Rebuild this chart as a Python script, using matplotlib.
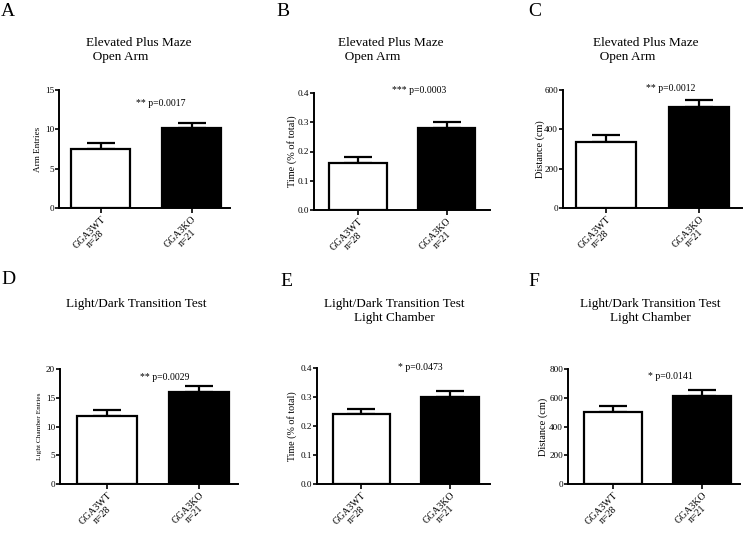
import matplotlib
matplotlib.use("Agg")
import matplotlib.pyplot as plt

plt.rcParams['font.family'] = ['Liberation Serif', 'DejaVu Serif']

# data
groups = ["GGA3WT\nn=28", "GGA3KO\nn=21"]
letters = ["A", "B", "C", "D", "E", "F"]
titles = ["Elevated Plus Maze\n  Open Arm",
          "Elevated Plus Maze\n  Open Arm",
          "Elevated Plus Maze\n  Open Arm",
          "Light/Dark Transition Test",
          "Light/Dark Transition Test\nLight Chamber",
          "Light/Dark Transition Test\nLight Chamber"]
ylabels = ["Arm Entries", "Time (% of total)", "Distance (cm)",
           "Light Chamber Entries", "Time (% of total)", "Distance (cm)"]
means = [[7.5, 10.2], [0.16, 0.28], [335, 515],
         [11.8, 16.0], [0.24, 0.30], [500, 610]]
sems = [[0.7, 0.6], [0.02, 0.02], [37, 35],
        [1.0, 1.0], [0.02, 0.02], [40, 42]]
pvals = ["** p=0.0017", "*** p=0.0003", "** p=0.0012",
         "** p=0.0029", "* p=0.0473", "* p=0.0141"]
yticks = [[0, 5, 10, 15], [0.0, 0.1, 0.2, 0.3, 0.4], [0, 200, 400, 600],
          [0, 5, 10, 15, 20], [0.0, 0.1, 0.2, 0.3, 0.4],
          [0, 200, 400, 600, 800]]
ytick_fmt = ["{:.0f}", "{:.1f}", "{:.0f}", "{:.0f}", "{:.1f}", "{:.0f}"]

# layout in pixels of the 748x533 figure
W, H = 748, 533
ax_px = [(59, 230, 90, 208), (314, 490, 93, 210), (563, 742, 90, 208),
         (60, 238, 369, 484), (317, 490, 368, 484), (568, 740, 369, 484)]
xlims = [(-0.46, 1.42), (-0.5, 1.49), (-0.46, 1.46),
         (-0.51, 1.42), (-0.5, 1.45), (-0.51, 1.43)]
ptext_pos = [(0.66, 13.3), (0.69, 0.41), (0.69, 610),
             (0.63, 18.6), (0.66, 0.40), (0.65, 746)]
ylabel_off = [21, 22, 23, 20, 25, 25]
ylabel_size = [6.6, 7.4, 7.4, 5.2, 7.2, 7.5]
title_pos = [(139, 50, 'left'), (391, 50, 'left'), (646, 50, 'left'),
             (136, 304, 'center'), (394, 311, 'center'), (650, 311, 'center')]
letter_pos = [(8, 11), (283, 11), (535, 11), (8, 279), (286, 281), (534, 281)]

fig = plt.figure(figsize=(W / 100, H / 100), dpi=100)

for i in range(6):
    l, r, t, b = ax_px[i]
    ax = fig.add_axes([l / W, 1 - b / H, (r - l) / W, (b - t) / H])
    ax.bar([0, 1], means[i], width=0.65, color=["white", "black"],
           edgecolor="black", linewidth=1.6, zorder=2)
    ax.errorbar([0, 1], means[i], yerr=[[0, 0], sems[i]], fmt="none",
                ecolor="black", elinewidth=1.6, capsize=10, capthick=1.6,
                zorder=1)
    ax.set_xlim(*xlims[i])
    ax.set_ylim(0, yticks[i][-1])
    ax.set_yticks(yticks[i])
    ax.set_yticklabels([ytick_fmt[i].format(v) for v in yticks[i]])
    ax.set_xticks([0, 1])
    ax.set_xticklabels(groups, rotation=45, ha="right", va="top",
                       rotation_mode="anchor", multialignment="center",
                       fontsize=7.1, linespacing=1.0)
    ax.tick_params(axis="y", labelsize=6.6, length=3, width=1.2, pad=0.5)
    ax.tick_params(axis="x", length=3.5, width=1.2, pad=1.2)
    for s in ["top", "right"]:
        ax.spines[s].set_visible(False)
    for s in ["left", "bottom"]:
        ax.spines[s].set_linewidth(1.4)
    ax.set_ylabel(ylabels[i], fontsize=ylabel_size[i])
    ax.yaxis.set_label_coords(-ylabel_off[i] / (r - l), 0.5)
    ax.yaxis.label.set_verticalalignment("center")
    px, py = ptext_pos[i]
    ax.text(px, py, pvals[i], ha="center", va="center", fontsize=7,
            clip_on=False)

    tx, ty, ma = title_pos[i]
    fig.text(tx / W, 1 - ty / H, titles[i], ha="center", va="center",
             multialignment=ma, fontsize=9.5, linespacing=1.15)
    lx, ly = letter_pos[i]
    fig.text(lx / W, 1 - ly / H, letters[i], ha="center", va="center",
             fontsize=14)

fig.savefig("out.png", dpi=100)
